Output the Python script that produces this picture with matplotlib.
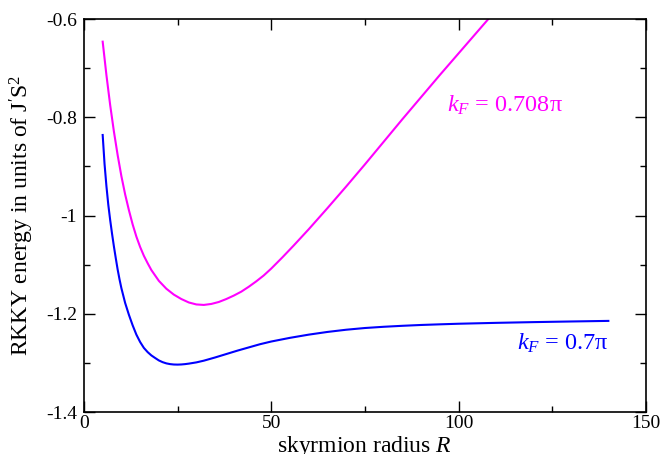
import numpy as np
import matplotlib
matplotlib.use("Agg")
import matplotlib.pyplot as plt
from matplotlib.ticker import MultipleLocator, FormatStrFormatter

plt.rcParams['font.family'] = ['Liberation Serif', 'DejaVu Serif']
plt.rcParams['mathtext.fontset'] = 'custom'
plt.rcParams['mathtext.rm'] = 'Liberation Serif'
plt.rcParams['mathtext.it'] = 'Liberation Serif:italic'
plt.rcParams['axes.unicode_minus'] = False

# kF = 0.7 pi (blue)
R_blue = [5, 5.5, 6, 6.5, 7, 7.5, 8, 8.5, 9, 9.5, 10, 11, 12, 13, 14, 15,
          16, 17, 18, 19, 20, 21, 22, 23, 24, 25, 26, 27, 28, 30, 32, 35,
          38, 41, 44, 47, 50, 55, 60, 65, 70, 75, 80, 85, 90, 95, 100, 110,
          120, 130, 140]
E_blue = [-0.836, -0.895, -0.940, -0.978, -1.009, -1.037, -1.063, -1.087,
          -1.110, -1.130, -1.148, -1.178, -1.202, -1.2235, -1.2425, -1.2575,
          -1.2695, -1.278, -1.2848, -1.290, -1.295, -1.2985, -1.301,
          -1.3025, -1.3033, -1.3035, -1.3032, -1.3025, -1.3015, -1.299,
          -1.2955, -1.289, -1.282, -1.275, -1.2685, -1.262, -1.2565, -1.249,
          -1.2425, -1.237, -1.2325, -1.229, -1.2265, -1.2245, -1.2228,
          -1.2215, -1.2203, -1.2185, -1.217, -1.2157, -1.2145]

# kF = 0.708 pi (magenta)
R_mag = [5, 6, 7, 8, 9, 10, 11, 12, 13, 14, 15, 16, 17, 18, 20, 22, 24, 26,
         28, 30, 32, 34, 36, 38, 40, 42, 44, 46, 48, 50, 53, 56, 60, 65, 70,
         75, 80, 85, 90, 95, 100, 105, 110]
E_mag = [-0.646, -0.714, -0.775, -0.829, -0.877, -0.920, -0.957, -0.989,
         -1.018, -1.043, -1.064, -1.082, -1.097, -1.111, -1.133, -1.149,
         -1.161, -1.170, -1.177, -1.181, -1.182, -1.180, -1.176, -1.170,
         -1.163, -1.155, -1.145, -1.134, -1.122, -1.108, -1.085, -1.061,
         -1.028, -0.985, -0.941, -0.896, -0.850, -0.804, -0.759, -0.714,
         -0.670, -0.626, -0.582]

fig = plt.figure(figsize=(6.61, 4.54), dpi=100)
ax = fig.add_axes([0.127, 0.0925, 0.85, 0.8655])

ax.plot(R_mag, E_mag, color='#ff00ff', linewidth=1.5)
ax.plot(R_blue, E_blue, color='#0000ff', linewidth=1.5)

ax.set_xlim(0, 150)
ax.set_ylim(-1.4, -0.6)

ax.xaxis.set_major_locator(MultipleLocator(50))
ax.xaxis.set_minor_locator(MultipleLocator(25))
ax.yaxis.set_major_locator(MultipleLocator(0.2))
ax.yaxis.set_minor_locator(MultipleLocator(0.1))
ax.yaxis.set_major_formatter(FormatStrFormatter('%g'))

ax.tick_params(which='both', direction='in', top=True, right=True,
               labelsize=14, width=1)
ax.tick_params(which='major', length=8)
ax.tick_params(which='minor', length=4.5)
ax.tick_params(axis='x', pad=2)
ax.tick_params(axis='y', pad=5)
for s in ax.spines.values():
    s.set_linewidth(1.2)

ax.set_xlabel('skyrmion radius $R$', fontsize=17)
ax.xaxis.set_label_coords(0.5, -0.055)
ax.set_ylabel('RKKY energy in units of J$^{\\prime}$S$^{2}$', fontsize=17)
ax.yaxis.set_label_coords(-0.085, 0.5)

ax.text(97, -0.789, '$k_F$ = 0.708π', color='#ff00ff', fontsize=17.5,
        va='baseline', ha='left')
ax.text(115.7, -1.2736, '$k_F$ = 0.7π', color='#0000ff', fontsize=17.5,
        va='baseline', ha='left')

fig.savefig('out.png', dpi=100)
